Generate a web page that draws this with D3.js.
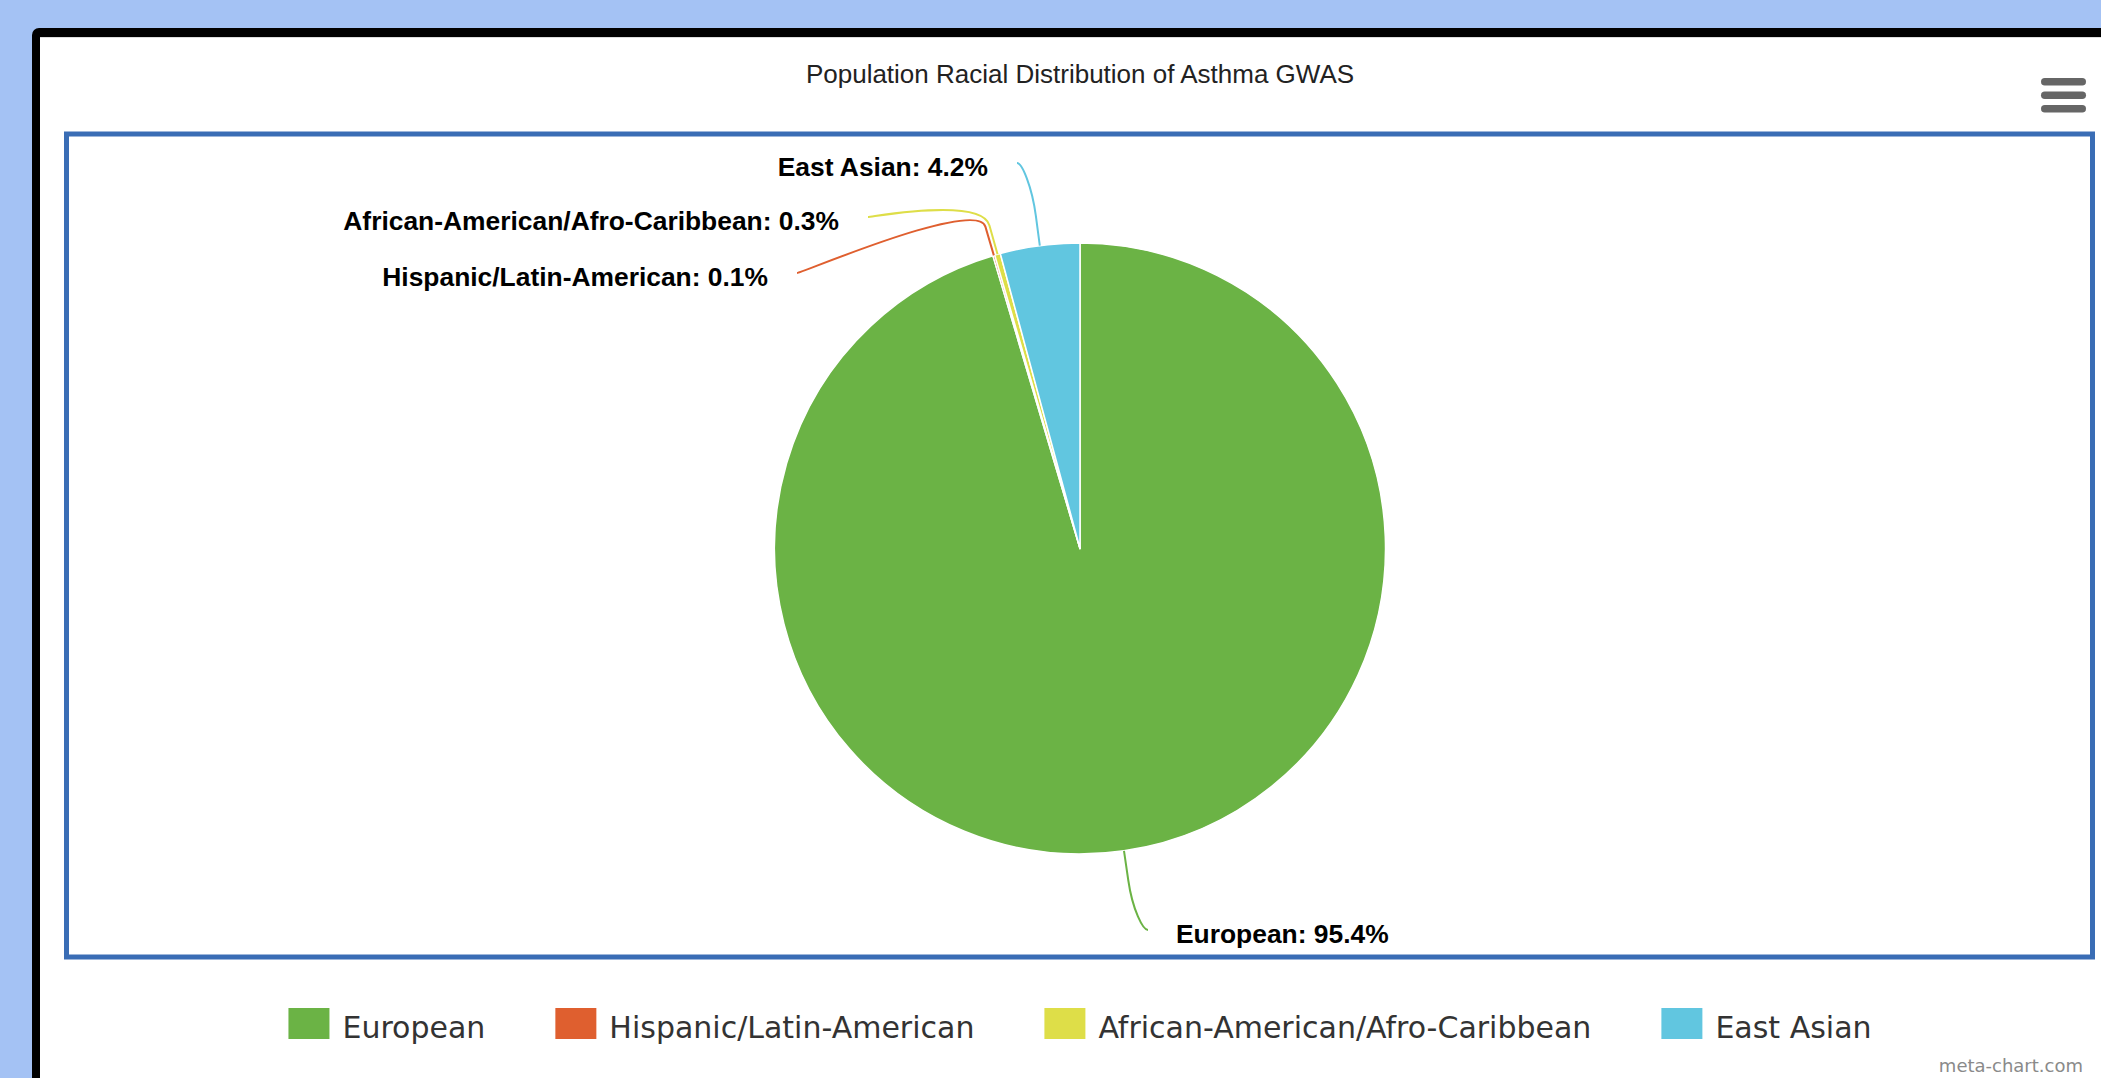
<!DOCTYPE html>
<html>
<head>
<meta charset="utf-8">
<script src="https://cdn.jsdelivr.net/npm/d3@7"></script>
<style>
  html, body { margin: 0; padding: 0; background: #a4c2f4; }
  svg { display: block; }
</style>
</head>
<body>
<svg id="chart" width="2101" height="1078"></svg>
<script>
// ---- data ----
const title = "Population Racial Distribution of Asthma GWAS";
const categories = ["European", "Hispanic/Latin-American", "African-American/Afro-Caribbean", "East Asian"];
const values = [95.4, 0.1, 0.3, 4.2];
const colors = ["#6bb345", "#df5f2f", "#dede48", "#61c6e0"];
const credit = "meta-chart.com";

// ---- layout ----
const W = 2101, H = 1078;
const cx = 1080, cy = 548.5, r = 305.5;
const breakDist = 30;
// label anchor positions relative to pie centre (layout only)
const labelOffsets = [
  { dx: 68, dy: 381.5 },     // European (right side)
  { dx: -283, dy: -275.5 },  // Hispanic
  { dx: -212, dy: -331.5 },  // African
  { dx: -63, dy: -385.5 }    // East Asian
];

const svg = d3.select("#chart");

// background + framed white panel
svg.append("rect").attr("x", 0).attr("y", 0).attr("width", W).attr("height", H).attr("fill", "#a4c2f4");
svg.append("rect").attr("x", 32).attr("y", 28).attr("width", W).attr("height", H + 20).attr("rx", 7).attr("fill", "#000");
svg.append("rect").attr("x", 40).attr("y", 37).attr("width", W).attr("height", H).attr("fill", "#fff");
svg.append("line").attr("x1", 40).attr("x2", W).attr("y1", 37.5).attr("y2", 37.5).attr("stroke", "#dcdcdc").attr("stroke-width", 1);

// blue plot frame
svg.append("rect").attr("x", 66.5).attr("y", 134).attr("width", 2026).attr("height", 823)
  .attr("fill", "none").attr("stroke", "#3a6db5").attr("stroke-width", 5);

// title
svg.append("text").attr("x", cx).attr("y", 83).attr("text-anchor", "middle")
  .attr("font-family", "'Liberation Sans', Arial, Helvetica, sans-serif").attr("font-size", 26)
  .attr("fill", "#222").text(title);

// menu icon
const menu = svg.append("g");
[78, 91.5, 105].forEach(y => {
  menu.append("rect").attr("x", 2041).attr("y", y).attr("width", 45).attr("height", 7.5).attr("rx", 3.75).attr("fill", "#666");
});

// pie
const data = categories.map((c, i) => ({ name: c, value: values[i], color: colors[i], i }));
const pie = d3.pie().value(d => d.value).sort(null).startAngle(0).endAngle(2 * Math.PI);
const arcs = pie(data);
const arc = d3.arc().innerRadius(0).outerRadius(r);
const polar = (a, rho) => [cx + rho * Math.sin(a), cy - rho * Math.cos(a)];

const g = svg.append("g");
g.selectAll("path.slice").data(arcs).join("path")
  .attr("class", "slice")
  .attr("transform", `translate(${cx},${cy})`)
  .attr("d", arc)
  .attr("fill", d => d.data.color)
  .attr("stroke", "#fff").attr("stroke-width", 1.5).attr("stroke-linejoin", "round");

// connectors + labels
arcs.forEach((d, i) => {
  const mid = (d.startAngle + d.endAngle) / 2;
  const P = polar(mid, r);
  const B = polar(mid, r + breakDist);
  const A = [cx + labelOffsets[i].dx, cy + labelOffsets[i].dy];
  const right = A[0] > cx;
  const path = d3.path();
  path.moveTo(A[0], A[1]);
  path.bezierCurveTo(A[0] + (right ? -5 : 5), A[1], 2 * B[0] - P[0], 2 * B[1] - P[1], B[0], B[1]);
  path.lineTo(P[0], P[1]);
  svg.append("path").attr("d", path.toString()).attr("fill", "none")
    .attr("stroke", d.data.color).attr("stroke-width", 2);
  svg.append("text")
    .attr("x", right ? A[0] + 28 : A[0] - 29)
    .attr("y", A[1] + 12.5)
    .attr("text-anchor", right ? "start" : "end")
    .attr("font-family", "'Liberation Sans', Arial, Helvetica, sans-serif")
    .attr("font-weight", "bold").attr("font-size", 26.4).attr("fill", "#000")
    .text(`${d.data.name}: ${d.data.value}%`);
});

// legend
const legend = svg.append("g");
const symW = 41, symH = 31, symGap = 13, itemGap = 70;
const items = legend.selectAll("g.item").data(data).join("g").attr("class", "item");
items.append("rect").attr("width", symW).attr("height", symH).attr("y", 1008).attr("fill", d => d.color);
items.append("text").attr("x", symW + symGap).attr("y", 1038)
  .attr("font-family", "'DejaVu Sans', Verdana, sans-serif").attr("font-size", 30)
  .attr("fill", "#333").text(d => d.name);
let widths = [];
items.each(function () { widths.push(d3.select(this).select("text").node().getComputedTextLength() + symW + symGap); });
const total = d3.sum(widths) + itemGap * (widths.length - 1);
let xPos = cx - total / 2;
items.each(function (d, i) {
  d3.select(this).attr("transform", `translate(${xPos},0)`);
  xPos += widths[i] + itemGap;
});

// credit
svg.append("text").attr("x", 2083).attr("y", 1072).attr("text-anchor", "end")
  .attr("font-family", "'DejaVu Sans', Verdana, sans-serif").attr("font-size", 18)
  .attr("fill", "#8a8a8a").text(credit);
</script>
</body>
</html>
